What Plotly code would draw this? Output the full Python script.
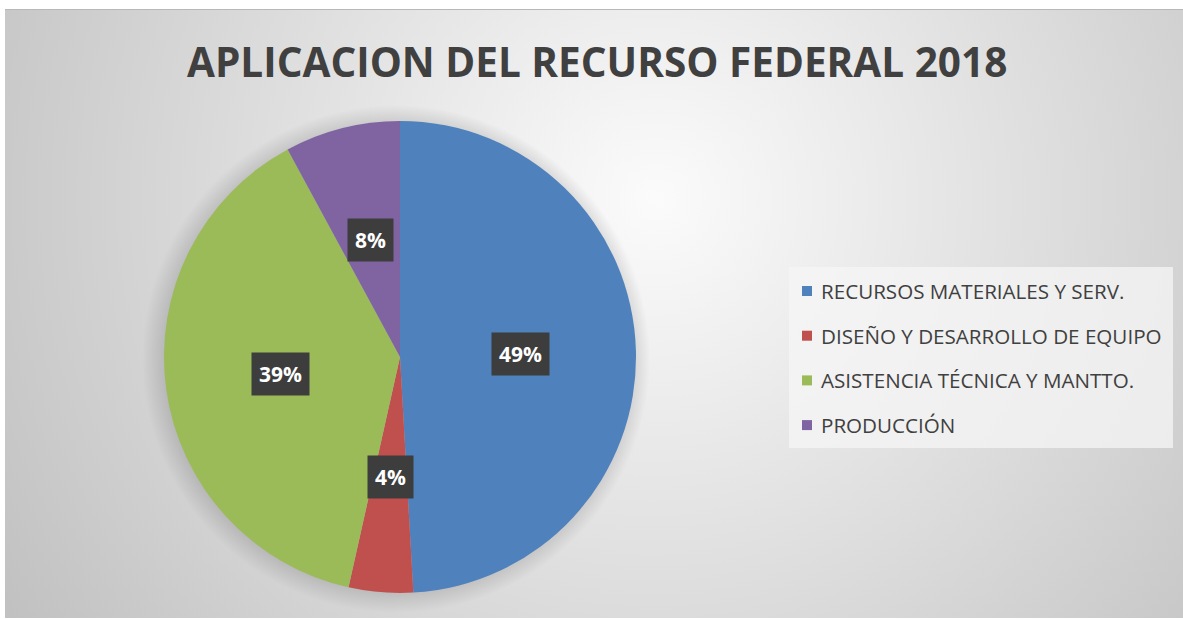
import base64
import numpy as np
import plotly.graph_objects as go

# ---------------- data ----------------
categories = [
    "RECURSOS MATERIALES Y SERV.",
    "DISEÑO Y DESARROLLO DE EQUIPO",
    "ASISTENCIA TÉCNICA Y MANTTO.",
    "PRODUCCIÓN",
]
values = [49.1, 4.4, 38.6, 7.9]
colors = ["#4F81BD", "#C0504D", "#9BBB59", "#8064A2"]
title_text = "APLICACION DEL RECURSO FEDERAL 2018"

# ---------------- layout constants ----------------
W, H = 1183, 619
TEXT = "#404040"
FONT = "Open Sans"

# pie placement (pixels)
PIE_CX, PIE_CY, PIE_R = 400, 357, 236
dom_x = [(PIE_CX - PIE_R) / W, (PIE_CX + PIE_R) / W]
dom_y = [1 - (PIE_CY + PIE_R) / H, 1 - (PIE_CY - PIE_R) / H]

# background radial gradient as svg
svg = f'''<svg xmlns="http://www.w3.org/2000/svg" width="{W-5}" height="{H-10}" viewBox="0 0 {W-5} {H-10}">
<defs>
<radialGradient id="g" gradientUnits="userSpaceOnUse" cx="650" cy="190" r="820">
<stop offset="0" stop-color="#fbfbfb"/>
<stop offset="0.25" stop-color="#ececec"/>
<stop offset="1" stop-color="#bdbdbd"/>
</radialGradient>
<radialGradient id="s" gradientUnits="userSpaceOnUse" cx="{PIE_CX-5-4}" cy="{PIE_CY-9+2}" r="{PIE_R+18}">
<stop offset="0.88" stop-color="#808080" stop-opacity="0.45"/>
<stop offset="1" stop-color="#808080" stop-opacity="0"/>
</radialGradient>
</defs>
<rect x="0" y="0" width="{W-5}" height="{H-10}" fill="url(#g)"/>
<line x1="0" y1="0.5" x2="{W-5}" y2="0.5" stroke="#b8b8b8" stroke-width="1"/>
<circle cx="{PIE_CX-5-4}" cy="{PIE_CY-9+2}" r="{PIE_R+18}" fill="url(#s)"/>
</svg>'''
svg_uri = "data:image/svg+xml;base64," + base64.b64encode(svg.encode("utf-8")).decode()

fig = go.Figure()
fig.add_trace(go.Pie(
    labels=categories,
    values=values,
    marker=dict(colors=colors, line=dict(width=0)),
    sort=False,
    direction="clockwise",
    rotation=0,
    textinfo="none",
    hoverinfo="label+percent",
    showlegend=False,
    domain=dict(x=dom_x, y=dom_y),
))

annotations = []
# percentage labels with dark boxes, placed from slice mid-angles
vals = np.array(values, dtype=float)
frac = vals / vals.sum()
cum = np.cumsum(frac) - frac / 2
for f, mid in zip(frac, cum):
    theta = 2 * np.pi * mid
    rr = 0.51 * PIE_R
    px = PIE_CX + rr * np.sin(theta)
    py = PIE_CY - rr * np.cos(theta)
    annotations.append(dict(
        x=px / W, y=1 - py / H, xref="paper", yref="paper",
        text=f"<b>{int(np.floor(f*100 + 0.5))}%</b>", showarrow=False,
        font=dict(family=FONT, size=21, color="white"),
        bgcolor="#3d3d3d", borderpad=7, xanchor="center", yanchor="middle",
    ))

# title
annotations.append(dict(
    x=0.5 * (188 + 1005) / W, y=1 - 61 / H, xref="paper", yref="paper",
    text=f"<b>{title_text}</b>", showarrow=False,
    font=dict(family=FONT, size=40.5, color=TEXT),
    xanchor="center", yanchor="middle",
))

# manual legend
shapes = []
LG_X0, LG_X1, LG_Y0, LG_Y1 = 789, 1173, 267, 448
shapes.append(dict(type="rect", xref="paper", yref="paper",
                   x0=LG_X0 / W, x1=LG_X1 / W, y0=1 - LG_Y1 / H, y1=1 - LG_Y0 / H,
                   fillcolor="rgba(245,245,245,0.75)", line=dict(width=0), layer="below"))
row0, step = 291, 44.7
for i, (cat, col) in enumerate(zip(categories, colors)):
    cy = row0 + i * step
    shapes.append(dict(type="rect", xref="paper", yref="paper",
                       x0=802 / W, x1=812 / W, y0=1 - (cy + 5) / H, y1=1 - (cy - 5) / H,
                       fillcolor=col, line=dict(width=0)))
    annotations.append(dict(
        x=819 / W, y=1 - cy / H, xref="paper", yref="paper",
        text=cat, showarrow=False, xanchor="left", yanchor="middle",
        font=dict(family=FONT, size=20.6, color=TEXT),
    ))

fig.update_layout(
    width=W, height=H,
    margin=dict(l=0, r=0, t=0, b=0),
    paper_bgcolor="white",
    plot_bgcolor="white",
    showlegend=False,
    annotations=annotations,
    shapes=shapes,
    images=[dict(source=svg_uri, xref="paper", yref="paper",
                 x=5 / W, y=1 - 9 / H, sizex=(W - 5) / W, sizey=(H - 10) / H,
                 xanchor="left", yanchor="top", sizing="stretch", layer="below")],
)

fig.write_html("out.html", config={"displayModeBar": False},
               post_script="document.body.style.margin='0';document.body.style.overflow='hidden';")
